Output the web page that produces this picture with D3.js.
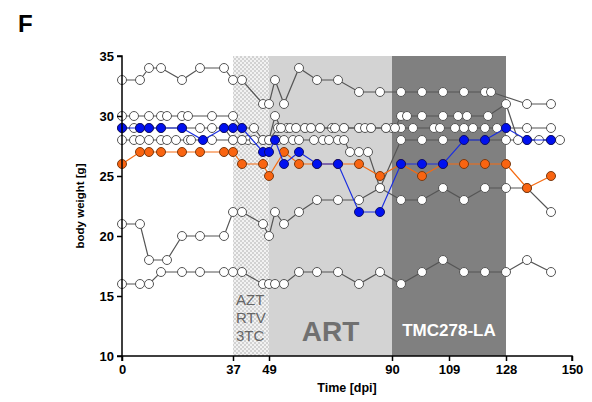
<!DOCTYPE html>
<html><head><meta charset="utf-8">
<script src="https://cdn.jsdelivr.net/npm/d3@7"></script>
<style>body{margin:0;background:#fff}svg{display:block;font-family:"Liberation Sans",Arial,sans-serif}</style>
</head><body><svg id="c" width="592" height="402"></svg>
<script>
// ---- data: [day, body weight g] ----
const mouseTop = [[0,33],[6,33],[9,34],[13,34],[20,33],[26,34],[34,34],[37,33],[40,33],[47,31],[49,31],[51,33],[54,31],[59,34],[65,33],[72,33],[79,32],[86,32],[93,32],[100,32],[107,32],[114,32],[121,32],[123,32],[135,31],[143,31]];
const mouseLow = [[0,16],[6,16],[9,16],[13,17],[20,17],[26,17],[34,17],[37,17],[40,17],[47,16],[49,16],[51,16],[54,16],[59,17],[65,17],[72,17],[79,16],[86,17],[93,16],[100,17],[107,18],[114,17],[121,17],[128,17],[135,18],[143,17]];
const mouseMid = [[0,21],[6,21],[9,18],[15,18],[20,20],[26,20],[34,20],[37,22],[40,22],[47,21],[49,20],[51,22],[54,21],[59,22],[65,23],[72,23],[79,23],[86,24],[93,23],[100,23],[107,24],[114,23],[121,24],[128,24],[135,24],[143,22]];
const mouseA = [[0,30],[4,30],[9,30],[13,30],[15,30],[20,30],[22,30],[30,30],[37,30],[40,29],[44,29],[47,28],[49,28],[51,30],[53,29],[56,29],[58,29],[61,29],[63,29],[66,29],[71,29],[74,29],[79,29],[81,29],[83,29],[88,29],[91,29],[93,30],[95,30],[100,30],[107,30],[112,30],[115,30],[122,30],[128,31],[132,28],[139,28],[146,28]];
const mouseB = [[0,28],[4,28],[6,28],[9,28],[13,28],[15,28],[18,28],[22,28],[23,28],[30,28],[37,28],[40,28],[42,28],[47,28],[49,28],[52,28],[54,28],[57,28],[59,28],[64,28],[67,28],[69,28],[72,28],[74,28],[76,27],[79,27],[82,27],[86,24],[93,28],[100,28],[107,28],[114,28],[121,28],[128,28],[135,28],[143,28]];
const mouseC = [[0,29],[4,29],[6,29],[9,29],[13,29],[20,29],[26,29],[30,29],[34,29],[37,28],[40,28],[44,28],[49,28],[52,29],[55,29],[58,29],[61,29],[63,29],[66,29],[70,29],[74,29],[79,29],[83,29],[88,29],[90,29],[93,29],[97,29],[104,29],[106,29],[111,29],[114,29],[117,29],[121,29],[125,29],[128,29],[135,29],[143,29]];
const mouseOrange = [[0,26],[6,27],[9,27],[13,27],[20,27],[26,27],[34,27],[37,27],[40,26],[47,26],[49,25],[54,27],[59,26],[65,26],[72,26],[79,26],[86,25],[93,26],[100,25],[107,26],[114,26],[121,26],[128,26],[135,24],[143,25]];
const mouseBlue = [[0,29],[6,29],[9,29],[13,29],[20,29],[27,28],[34,29],[37,29],[40,29],[47,27],[49,27],[51,28],[54,26],[59,27],[65,26],[72,26],[79,22],[86,22],[93,26],[100,26],[107,26],[114,28],[121,28],[128,29],[135,28],[143,28]];
const xTicks = [0,37,49,90,109,128,150];
const yTicks = [10,15,20,25,30,35];
const phases = [{name:"checker",from:37,to:49},{name:"ART",from:49,to:90},{name:"TMC278-LA",from:90,to:128}];

const svg = d3.select("#c");
const x = d3.scaleLinear().domain([0,150]).range([122,572]);
const y = d3.scaleLinear().domain([10,35]).range([356,56]);

// pattern
const defs = svg.append("defs");
const pat = defs.append("pattern").attr("id","chk").attr("width",4).attr("height",4).attr("patternUnits","userSpaceOnUse");
pat.append("rect").attr("width",4).attr("height",4).attr("fill","#f2f2f2");
pat.append("rect").attr("width",2).attr("height",2).attr("fill","#d2d2d2");
pat.append("rect").attr("x",2).attr("y",2).attr("width",2).attr("height",2).attr("fill","#d2d2d2");

const fills = {"checker":"url(#chk)","ART":"#d3d3d3","TMC278-LA":"#808080"};
svg.selectAll("rect.ph").data(phases).join("rect").attr("class","ph")
  .attr("x",d=>x(d.from)).attr("width",d=>x(d.to)-x(d.from))
  .attr("y",y(35)).attr("height",y(10)-y(35)).attr("fill",d=>fills[d.name]);

// labels in phases
const tx = svg.append("g").attr("fill","#666").attr("font-size",15);
["AZT","RTV","3TC"].forEach((t,i)=>tx.append("text").attr("x",x(37)+3).attr("y",305+i*18).text(t));
svg.append("text").attr("x",(x(49)+x(90))/2).attr("y",341).attr("text-anchor","middle")
  .attr("font-size",28).attr("font-weight","bold").attr("fill","#707070").text("ART");
svg.append("text").attr("x",(x(90)+x(128))/2).attr("y",336).attr("text-anchor","middle")
  .attr("font-size",17).attr("font-weight","bold").attr("fill","#fff").text("TMC278-LA");

const line = d3.line().x(d=>x(d[0])).y(d=>y(d[1]));
function drawSeries(data, lineCol, fill, stroke){
  svg.append("path").datum(data).attr("d",line).attr("fill","none").attr("stroke",lineCol).attr("stroke-width",1.2);
  svg.append("g").selectAll("circle").data(data).join("circle")
    .attr("cx",d=>x(d[0])).attr("cy",d=>y(d[1])).attr("r",4.5)
    .attr("fill",fill).attr("stroke",stroke).attr("stroke-width",1);
}
[mouseLow,mouseMid,mouseB,mouseC,mouseA,mouseTop].forEach(s=>drawSeries(s,"#555","#fff","#555"));
drawSeries(mouseOrange,"#f56a10","#fa6410","#7a3a10");
drawSeries(mouseBlue,"#1a2ee0","#0010f0","#10106a");

// axes
const ya = svg.append("g").attr("transform",`translate(${x(0)},0)`)
  .call(d3.axisLeft(y).tickValues(yTicks).tickSize(5).tickPadding(3).tickFormat(d3.format("d")));
const xa = svg.append("g").attr("transform",`translate(0,${y(10)})`)
  .call(d3.axisBottom(x).tickValues(xTicks).tickSize(5).tickPadding(4).tickFormat(d3.format("d")));
[ya,xa].forEach(a=>{
  a.select(".domain").attr("stroke","#000").attr("stroke-width",1.5);
  a.selectAll(".tick line").attr("stroke","#000").attr("stroke-width",1.5);
  a.selectAll(".tick text").attr("fill","#000").attr("font-size",13).attr("font-weight","bold")
    .attr("font-family","'Liberation Sans',Arial,sans-serif");
});
ya.select(".domain").attr("d",`M-5,${y(35)}H0V${y(10)}H-5`);
xa.select(".domain").attr("d",`M${x(0)},5V0H${x(150)}V5`);

svg.append("text").attr("x",(x(0)+x(150))/2).attr("y",392).attr("text-anchor","middle")
  .attr("font-size",12.5).attr("font-weight","bold").text("Time [dpi]");
svg.append("text").attr("transform",`translate(84,${(y(10)+y(35))/2}) rotate(-90)`).attr("text-anchor","middle")
  .attr("font-size",11.5).attr("font-weight","bold").text("body weight [g]");
svg.append("text").attr("x",18).attr("y",32).attr("font-size",24).attr("font-weight","bold").text("F");
</script></body></html>
